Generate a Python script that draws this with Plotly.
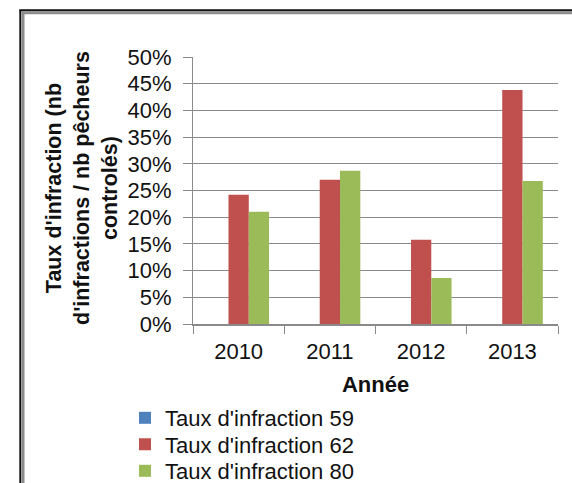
import plotly.graph_objects as go

years = ["2010", "2011", "2012", "2013"]
taux_59 = [0.0, 0.0, 0.0, 0.0]
taux_62 = [0.242, 0.270, 0.158, 0.438]
taux_80 = [0.210, 0.287, 0.086, 0.268]

series_names = ["Taux d'infraction 59", "Taux d'infraction 62", "Taux d'infraction 80"]
series_colors = ["#4F81BD", "#C0504D", "#9BBB59"]
y_ticks = [i * 0.05 for i in range(11)]

W, H = 572, 483
L, R, T, B = 193, 14, 57, 159
PW, PH = W - L - R, H - T - B


def px_x(px):
    return (px - L) / PW


def px_y(py):
    return (H - B - py) / PH


FONT = "Arial, Liberation Sans, sans-serif"
GRID = "#8a8a8a"
TXT = "#111111"

fig = go.Figure()
legend_ids = ["legend", "legend2", "legend3"]
for name, vals, col, lg in zip(series_names, [taux_59, taux_62, taux_80], series_colors, legend_ids):
    fig.add_trace(go.Bar(x=years, y=vals, name=name, legend=lg,
                         marker=dict(color=col, line=dict(width=0))))

# one legend per entry, stacked under the axis title
legend_rows = [418, 444.5, 471]
legend_layout = {}
for lg, row in zip(legend_ids, legend_rows):
    legend_layout[lg] = dict(
        x=px_x(125), y=px_y(row), xanchor="left", yanchor="middle",
        font=dict(size=22, family=FONT, color=TXT),
        bgcolor="rgba(0,0,0,0)", borderwidth=0,
    )

fig.update_layout(
    width=W, height=H,
    margin=dict(l=L, r=R, t=T, b=B, pad=0, autoexpand=False),
    paper_bgcolor="white", plot_bgcolor="white",
    barmode="group", bargap=0.333, bargroupgap=0,
    font=dict(family=FONT, color=TXT),
    showlegend=True,
    xaxis=dict(
        type="category",
        showline=True, linecolor=GRID, linewidth=1.5,
        ticks="outside", tickson="boundaries", ticklen=8, tickcolor=GRID, tickwidth=1,
        tickfont=dict(size=22, family=FONT, color=TXT),
        ticklabelstandoff=7,
        showgrid=False,
        title=dict(text="<b>Année</b>", font=dict(size=22, family=FONT, color=TXT), standoff=13),
    ),
    yaxis=dict(
        range=[0, 0.5], tickvals=y_ticks, tickformat=".0%",
        showline=True, linecolor=GRID, linewidth=1,
        ticks="outside", ticklen=9, tickcolor=GRID, tickwidth=1,
        tickfont=dict(size=22, family=FONT, color=TXT),
        ticklabelstandoff=7,
        showgrid=True, gridcolor=GRID, gridwidth=1.3,
        zeroline=False,
    ),
    **legend_layout,
)

# Rotated three-line axis title
fig.add_annotation(
    text="<b>Taux d'infraction (nb<br>d'infractions / nb pêcheurs<br>controlés)</b>",
    textangle=-90, xref="paper", yref="paper",
    x=px_x(82), y=px_y(188), xanchor="center", yanchor="middle",
    showarrow=False, font=dict(size=21.5, family=FONT, color=TXT),
)

# Outer chart frame: dark outer edge with a grey inner edge, left and top
frame = [
    (20.3, 20.3, 10, 490, "#111111", 2),
    (23.0, 23.0, 11.5, 490, "#8c8c8c", 3),
    (19.3, 580, 10.3, 10.3, "#111111", 2),
    (21.5, 580, 12.8, 12.8, "#8c8c8c", 3),
]
for xa, xb, ya, yb, col, wd in frame:
    fig.add_shape(type="line", xref="paper", yref="paper",
                  x0=px_x(xa), x1=px_x(xb), y0=px_y(ya), y1=px_y(yb),
                  line=dict(color=col, width=wd), layer="above")

fig.write_html("out.html")
